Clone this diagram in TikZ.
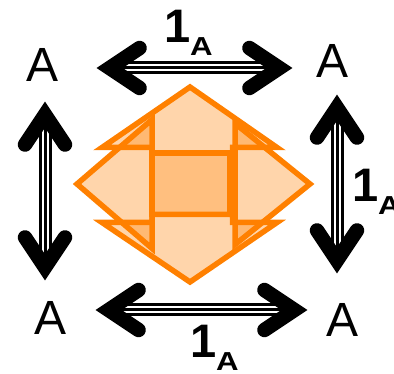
\documentclass[tikz,border=0pt]{standalone}
\usepackage{fontspec}
\setmainfont{Liberation Sans}
\usetikzlibrary{calc}
\definecolor{cellorange}{RGB}{255,128,0}

% triple-shaft two-headed arrow between two named tips
\newcommand{\idarrow}[2]{%
  \coordinate (sa) at ($(#1)!20pt!(#2)$);
  \coordinate (sb) at ($(#2)!20pt!(#1)$);
  \draw[shaft] (sa) -- (sb);
  \draw[shaft gap] (sa) -- (sb);
  \draw[shaft core] (sa) -- (sb);
  \coordinate (ha) at ($(#1)!12.6pt!(#2)$);
  \coordinate (hb) at ($(#2)!12.6pt!(#1)$);
  \draw[chevron] ($(ha)!36pt!33.7:(#2)$) -- (ha) -- ($(ha)!36pt!-33.7:(#2)$);
  \draw[chevron] ($(hb)!36pt!33.7:(#1)$) -- (hb) -- ($(hb)!36pt!-33.7:(#1)$);
}
\newcommand{\idlabel}{1{\fontsize{26}{26}\selectfont\raisebox{-12.5pt}{\scalebox{1.2}[1]{A}}}}

\begin{document}
\begin{tikzpicture}[
    x=1pt, y=-1pt,
    obj/.style={inner sep=0, outer sep=0, anchor=base, font=\fontsize{48}{48}\selectfont},
    lbl/.style={inner sep=0, outer sep=0, anchor=base west, font=\bfseries\fontsize{47}{47}\selectfont},
    shaft/.style={black, line width=13pt},
    shaft gap/.style={white, line width=7pt},
    shaft core/.style={black, line width=3pt},
    chevron/.style={black, line width=14.5pt, line cap=round, line join=miter},
    face/.style={draw=cellorange, line width=5.5pt, line join=miter, fill=cellorange, fill opacity=0.33},
]
    \useasboundingbox (0,0) rectangle (394,374);

    % the 2-cell in the middle
    \filldraw[face] (102,147.5) -- (190,87) -- (277,147.5) -- (232.5,147.5) -- (232.5,153)
        -- (152,153) -- (152,147.5) -- cycle;
    \filldraw[face] (102,222.5) -- (190,282) -- (277,222.5) -- (232.5,222.5) -- (232.5,214.5)
        -- (152,214.5) -- (152,222.5) -- cycle;
    \filldraw[face] (77,184) -- (152,119.6) -- (152,248.4) -- cycle;
    \filldraw[face] (310,184) -- (235,123.4) -- (235,244.6) -- cycle;
    \filldraw[face, fill opacity=0.5] (152,153) rectangle (230,214.5);

    % objects
    \node[obj] (tl) at (43,82) {A};
    \node[obj] (tr) at (333,78) {A};
    \node[obj] (bl) at (51,335) {A};
    \node[obj] (br) at (343,337) {A};

    % arrow tips
    \coordinate (top-l) at (97,68);
    \coordinate (top-r) at (292,68);
    \coordinate (bot-l) at (96,310);
    \coordinate (bot-r) at (307,310);
    \coordinate (lft-t) at (45,102);
    \coordinate (lft-b) at (45,280);
    \coordinate (rgt-t) at (337,95);
    \coordinate (rgt-b) at (337,273);

    \idarrow{top-l}{top-r}
    \idarrow{bot-l}{bot-r}
    \idarrow{lft-t}{lft-b}
    \idarrow{rgt-t}{rgt-b}

    % identity labels
    \node[lbl] (id-top) at (164,43) {\idlabel};
    \node[lbl] (id-bot) at (190,358) {\idlabel};
    \node[lbl] (id-rgt) at (352,202) {\idlabel};
\end{tikzpicture}
\end{document}
